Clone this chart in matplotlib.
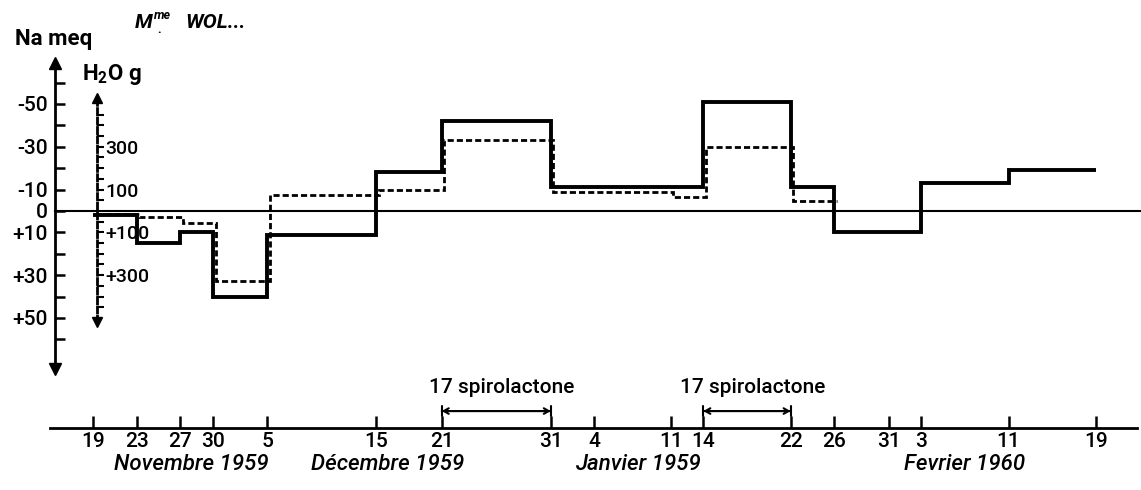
import numpy as np
import pandas as pd
import matplotlib
matplotlib.use("Agg")
import matplotlib.pyplot as plt

plt.rcParams['font.family'] = ['Roboto', 'DejaVu Sans']
plt.rcParams['mathtext.default'] = 'regular'
plt.rcParams['font.weight'] = 'medium'

start = pd.Timestamp("1959-11-19")

# dates on the time axis
tick_dates = ["1959-11-19", "1959-11-23", "1959-11-27", "1959-11-30", "1959-12-05",
              "1959-12-15", "1959-12-21", "1959-12-31", "1960-01-04", "1960-01-11",
              "1960-01-14", "1960-01-22", "1960-01-26", "1960-01-31", "1960-02-03",
              "1960-02-11", "1960-02-19"]
tick_labels = ["19", "23", "27", "30", "5", "15", "21", "31", "4", "11",
               "14", "22", "26", "31", "3", "11", "19"]

# Na balance (meq), one value per period
na_edges = ["1959-11-19", "1959-11-23", "1959-11-27", "1959-11-30", "1959-12-05",
            "1959-12-15", "1959-12-21", "1959-12-31", "1960-01-14", "1960-01-22",
            "1960-01-26", "1960-02-03", "1960-02-11", "1960-02-19"]
na_values = [2, 15, 10, 40, 11, -18, -42, -11, -51, -11, 10, -13, -19]

# water balance (g)
h2o_edges = ["1959-11-19", "1959-11-23", "1959-11-27", "1959-11-30", "1959-12-05",
             "1959-12-15", "1959-12-21", "1959-12-31", "1960-01-11", "1960-01-14",
             "1960-01-22", "1960-01-26"]
h2o_values = [15, 30, 55, 325, -75, -100, -330, -90, -65, -300, -45]

months = ["Novembre 1959", "Décembre 1959", "Janvier 1959", "Fevrier 1960"]
month_centers = ["1959-11-28", "1959-12-16", "1960-01-08", "1960-02-07"]

spiro_periods = [("1959-12-21", "1959-12-31"), ("1960-01-14", "1960-01-22")]
spiro_label = "17 spirolactone"

na_ticks = np.arange(-60, 61, 10)
na_labeled = {-50: "-50", -30: "-30", -10: "-10", 0: "0", 10: "+10", 30: "+30", 50: "+50"}
h2o_ticks = [t for t in range(-450, 451, 50) if t != 0]
h2o_labeled = {-300: "300", -100: "100", 100: "+100", 300: "+300"}


def days(d):
    return (pd.to_datetime(pd.Series(d)) - start).dt.days.values.astype(float)


fig = plt.figure(figsize=(11.41, 4.90), dpi=100)
ax = fig.add_axes([0, 0, 1, 1])
ax.set_xlim(-8.53, 96.15)
ax.set_ylim(130.4, -98.6)

# Na axis
na_x = -3.5
for s in ['top', 'right']:
    ax.spines[s].set_visible(False)
ax.spines['left'].set_position(('data', na_x))
ax.spines['left'].set_bounds(74, -69)
ax.spines['left'].set_linewidth(2)
ax.set_yticks(na_ticks)
ax.set_yticklabels([na_labeled.get(int(t), "") for t in na_ticks], fontsize=15)
ax.tick_params(axis='y', direction='in', length=7, width=1.8, pad=5)
ax.plot([na_x], [-69], marker='^', color='k', ms=9, clip_on=False)
ax.plot([na_x], [74], marker='v', color='k', ms=9, clip_on=False)

# time axis
ax.spines['bottom'].set_position(('data', 101.4))
ax.spines['bottom'].set_bounds(-3.94, 95.8)
ax.spines['bottom'].set_linewidth(2)
ax.set_xticks(days(tick_dates))
ax.set_xticklabels(tick_labels, fontsize=15)
ax.tick_params(axis='x', direction='in', length=9, width=1.8, pad=3)

for name, c in zip(months, days(month_centers)):
    ax.text(c, 118.7, name, fontsize=16, style='italic', ha='center', va='center')

for a, b in spiro_periods:
    xa, xb = days([a, b])
    ax.annotate("", xy=(xa, 93.5), xytext=(xb, 93.5),
                arrowprops=dict(arrowstyle='|-|,widthA=0.35,widthB=0.35', lw=1.5, color='k',
                                shrinkA=0, shrinkB=0))
    ax.annotate("", xy=(xa, 93.5), xytext=(xb, 93.5),
                arrowprops=dict(arrowstyle='<->,head_length=0.35,head_width=0.2', lw=1.5,
                                color='k', shrinkA=0, shrinkB=0))
    ax.text((xa + xb) / 2 + 0.5, 82.7, spiro_label, fontsize=15, ha='center', va='center')

# zero line
ax.axhline(0, xmin=0.048, xmax=1.0, color='k', lw=1.5)

# Na steps
ax.stairs(na_values, days(na_edges), baseline=None, color='k', lw=2.8, joinstyle='miter')

# water axis and steps (100 g at the height of 10 meq)
ax2 = ax.twinx()
ax2.set_position([0, 0, 1, 1])
ax2.set_ylim(1304, -986)
h2o_x = 0.37
for s in ['top', 'left', 'bottom']:
    ax2.spines[s].set_visible(False)
ax2.spines['right'].set_position(('data', h2o_x))
ax2.spines['right'].set_bounds(520, -530)
ax2.spines['right'].set_linestyle((0, (2.2, 1.2)))
ax2.spines['right'].set_linewidth(2)
ax2.set_yticks(h2o_ticks)
ax2.set_yticklabels([h2o_labeled.get(t, "") for t in h2o_ticks], fontsize=14)
ax2.tick_params(axis='y', direction='out', length=5, width=1.5, pad=1)
ax2.plot([h2o_x], [-530], marker='^', color='k', ms=7, clip_on=False)
ax2.plot([h2o_x], [520], marker='v', color='k', ms=7, clip_on=False)
ax2.stairs(h2o_values, days(h2o_edges) + 0.25, baseline=None, color='k', lw=2.0,
           linestyle=(0, (2.2, 1.1)))

# headings
fig.text(0.013, 0.92, "Na meq", fontsize=16, fontweight='bold', va='center')
fig.text(0.072, 0.847, "H$_2$O g", fontsize=16, fontweight='bold', va='center')
fig.text(0.118, 0.955, "M", fontsize=15, fontweight='bold', style='italic', va='center')
fig.text(0.135, 0.968, "me", fontsize=9, fontweight='bold', style='italic', va='center')
fig.text(0.138, 0.94, ".", fontsize=9, fontweight='bold', va='center')
fig.text(0.162, 0.955, "WOL...", fontsize=15, fontweight='bold', style='italic', va='center')

fig.savefig("out.png", dpi=100)
